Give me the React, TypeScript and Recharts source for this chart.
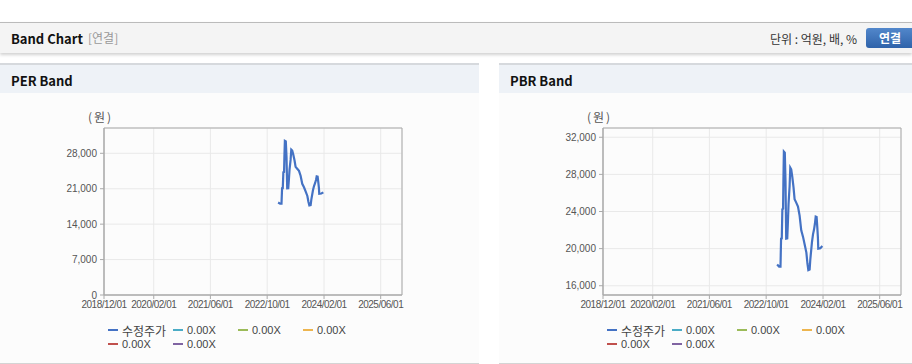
import { LineChart, Line, XAxis, YAxis, CartesianGrid, ReferenceArea } from 'recharts';

// adjusted close price (수정주가)
const priceDates = [
  '2023-01-03', '2023-01-20', '2023-02-01', '2023-02-06', '2023-02-12', '2023-02-17',
  '2023-02-23', '2023-02-26', '2023-03-02', '2023-03-10', '2023-03-16', '2023-03-22',
  '2023-03-31', '2023-04-06', '2023-04-11', '2023-04-20', '2023-04-26', '2023-05-04',
  '2023-05-13', '2023-05-24', '2023-06-02', '2023-06-16', '2023-07-01', '2023-07-15',
  '2023-07-29', '2023-08-13', '2023-08-27', '2023-09-11', '2023-09-20', '2023-09-28',
  '2023-10-09', '2023-10-15', '2023-10-29', '2023-11-07', '2023-11-16', '2023-11-24',
  '2023-11-30', '2023-12-08', '2023-12-14', '2023-12-19', '2023-12-22', '2024-01-09',
  '2024-01-26',
];
const priceValues = [
  18280, 18060, 18060, 21080, 21100, 24240,
  24300, 27290, 30460, 30350, 27290, 21080,
  21100, 22980, 24780, 26690, 28730, 28550,
  27760, 26580, 25320, 24960, 24530, 23560,
  21970, 21290, 20460, 19570, 18420, 17690,
  17750, 18850, 20710, 21540, 22080, 22730,
  23450, 23400, 22260, 21190, 20000, 20050,
  20280,
];

const xTickDates = ['2018-12-01', '2020-02-01', '2021-06-01', '2022-10-01', '2024-02-01', '2025-06-01'];
const xDomainDates = ['2018-12-01', '2025-12-01'];

const perTicks = [0, 7000, 14000, 21000, 28000];
const perDomain = [0, 33000];
const pbrTicks = [16000, 20000, 24000, 28000, 32000];
const pbrDomain = [15000, 33000];

const legendNames = ['수정주가', '0.00X', '0.00X', '0.00X', '0.00X', '0.00X'];
const legendColors = ['#4472c4', '#4bacc6', '#9bbb59', '#edb54f', '#c0504d', '#8064a2'];

const ts = (d: string) => new Date(d).getTime();
const data = priceDates.map((d, i) => ({ t: ts(d), price: priceValues[i] }));
const xTicks = xTickDates.map(ts);
const xDomain = xDomainDates.map(ts) as [number, number];

const KR = '"Noto Sans CJK KR", "Noto Sans", sans-serif';
const AX = '"Liberation Sans", Arial, sans-serif';

function fmtDate(v: number) {
  const d = new Date(v);
  const mm = String(d.getUTCMonth() + 1).padStart(2, '0');
  const dd = String(d.getUTCDate()).padStart(2, '0');
  return `${d.getUTCFullYear()}/${mm}/${dd}`;
}

function BandChart({ domain, ticks }: { domain: number[]; ticks: number[] }) {
  return (
    <LineChart width={420} height={230} data={data} margin={{ top: 28, right: 18, bottom: 10, left: 0 }}>
      <CartesianGrid stroke="#e9e9e9" />
      <XAxis
        dataKey="t"
        type="number"
        domain={xDomain}
        ticks={xTicks}
        tickFormatter={fmtDate}
        height={25}
        tickSize={4}
        tickMargin={2}
        tick={{ fontSize: 10, fill: '#555', fontFamily: AX, letterSpacing: -0.5 }}
        stroke="#aaa"
        interval={0}
        allowDataOverflow
      />
      <YAxis
        domain={domain}
        ticks={ticks}
        width={104}
        tickSize={4}
        tickMargin={3}
        tickFormatter={(v: number) => v.toLocaleString('en-US')}
        tick={{ fontSize: 10, fill: '#555', fontFamily: AX }}
        stroke="#aaa"
        interval={0}
        allowDataOverflow
      />
      <ReferenceArea
        x1={xDomain[0]}
        x2={xDomain[1]}
        y1={domain[0]}
        y2={domain[1]}
        fill="none"
        stroke="#aaa"
        strokeWidth={1}
      />
      <Line
        type="linear"
        dataKey="price"
        stroke="#4472c4"
        strokeWidth={2.2}
        dot={false}
        isAnimationActive={false}
      />
    </LineChart>
  );
}

function LegendBox() {
  return (
    <div style={{ display: 'flex', flexWrap: 'wrap', width: 262 }}>
      {legendNames.map((n, i) => (
        <div key={i} style={{ width: 65, height: 14, display: 'flex', alignItems: 'center' }}>
          <span style={{ display: 'inline-block', width: 10, height: 2, background: legendColors[i], marginRight: 4 }} />
          <span
            style={{
              fontSize: i === 0 ? 12 : 11,
              fontFamily: i === 0 ? KR : AX,
              color: '#444',
              whiteSpace: 'nowrap',
            }}
          >
            {n}
          </span>
        </div>
      ))}
    </div>
  );
}

function Panel({ title, left, width, domain, ticks }: { title: string; left: number; width: number; domain: number[]; ticks: number[] }) {
  return (
    <div style={{ position: 'absolute', left, top: 63, width, height: 300, background: '#fcfcfc', borderBottom: '2px solid #d4d4d4' }}>
      <div
        style={{
          height: 28,
          borderTop: '2px solid #d6d9dd',
          background: '#eef2f7',
          fontFamily: KR,
          fontWeight: 700,
          fontSize: 13,
          color: '#111',
          lineHeight: '32px',
          paddingLeft: 11,
          boxSizing: 'content-box',
        }}
      >
        {title}
      </div>
      <div style={{ position: 'absolute', left: 88, top: 45, fontSize: 12, color: '#555', fontFamily: KR, letterSpacing: 2 }}>(원)</div>
      <div style={{ position: 'absolute', left: 0, top: 37 }}>
        <BandChart domain={domain} ticks={ticks} />
      </div>
      <div style={{ position: 'absolute', left: 108, top: 260 }}>
        <LegendBox />
      </div>
    </div>
  );
}

export default function App() {
  return (
    <div style={{ position: 'absolute', left: 0, top: 0, width: 912, height: 364, background: '#fff', overflow: 'hidden' }}>
      <div
        style={{
          position: 'absolute',
          left: 0,
          top: 22,
          width: 912,
          height: 30,
          borderTop: '1px solid #bbb',
          background: '#f4f4f4',
          boxShadow: '0 2px 3px rgba(0,0,0,0.18)',
          fontFamily: KR,
        }}
      >
        <span style={{ position: 'absolute', left: 11, top: 6, fontSize: 13, fontWeight: 700, color: '#111' }}>Band Chart</span>
        <span style={{ position: 'absolute', left: 88, top: 6, fontSize: 12, color: '#999' }}>[연결]</span>
        <span style={{ position: 'absolute', left: 770, top: 7, fontSize: 12, color: '#333' }}>단위 : 억원, 배, %</span>
        <span
          style={{
            position: 'absolute',
            left: 866,
            top: 5,
            width: 52,
            height: 20,
            borderRadius: 3,
            background: 'linear-gradient(#5287cb, #2f63aa)',
            color: '#fff',
            fontWeight: 700,
            fontSize: 12,
            lineHeight: '20px',
            paddingLeft: 13,
            boxSizing: 'border-box',
          }}
        >
          연결
        </span>
      </div>
      <Panel title="PER Band" left={0} width={479} domain={perDomain} ticks={perTicks} />
      <Panel title="PBR Band" left={499} width={413} domain={pbrDomain} ticks={pbrTicks} />
    </div>
  );
}
